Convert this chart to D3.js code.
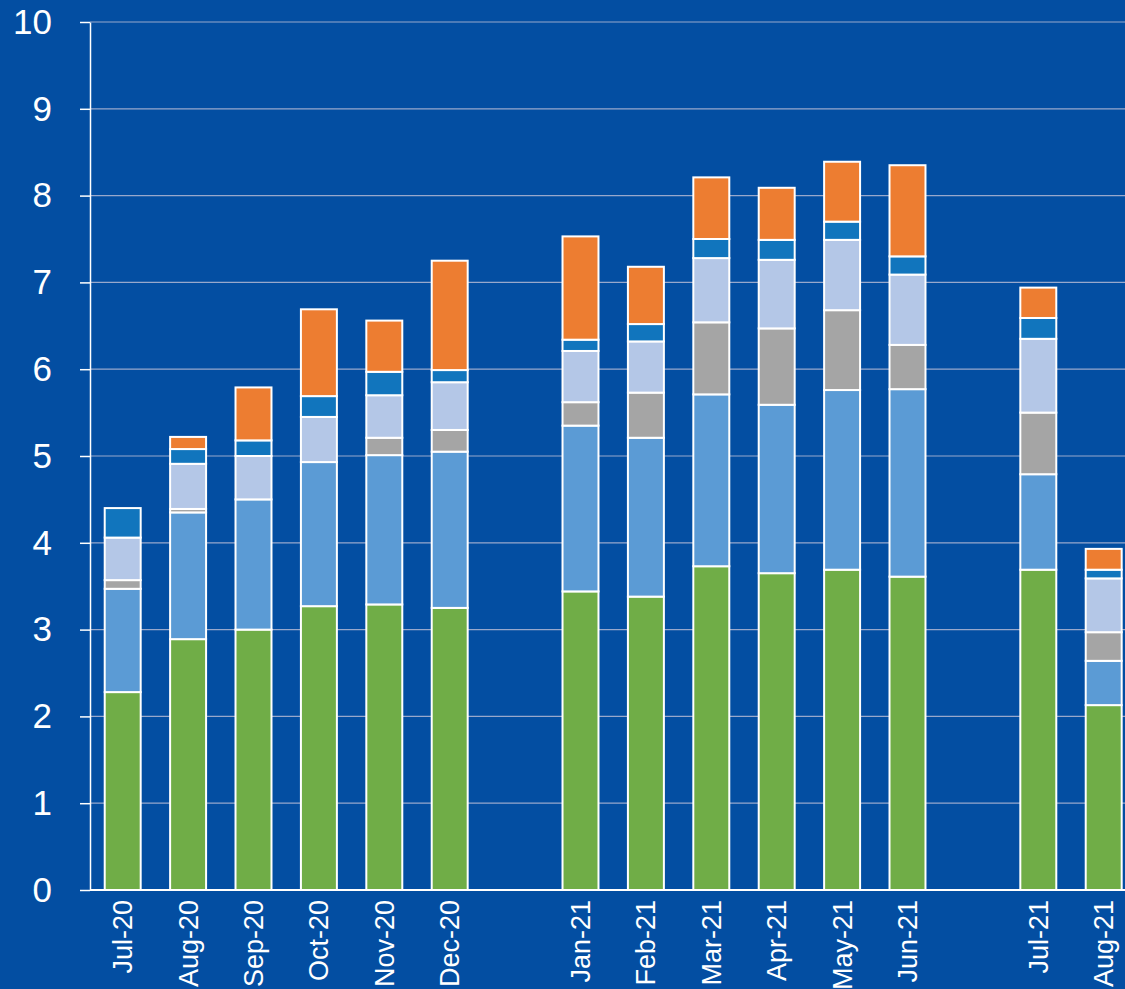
<!DOCTYPE html>
<html>
<head>
<meta charset="utf-8">
<script src="https://cdn.jsdelivr.net/npm/d3@7"></script>
<style>
  html, body { margin: 0; padding: 0; background: #034ea2; }
  svg { display: block; }
</style>
</head>
<body>
<div id="chart"></div>
<script>
// months on the x axis, null marks an empty slot
const months = ["Jul-20", "Aug-20", "Sep-20", "Oct-20", "Nov-20", "Dec-20", null,
  "Jan-21", "Feb-21", "Mar-21", "Apr-21", "May-21", "Jun-21", null,
  "Jul-21", "Aug-21"];

// series values, bottom to top of each stack
const green     = [2.28, 2.89, 3.00, 3.27, 3.29, 3.25, 0, 3.44, 3.38, 3.73, 3.65, 3.69, 3.61, 0, 3.69, 2.13];
const midBlue   = [1.19, 1.46, 1.50, 1.66, 1.72, 1.80, 0, 1.91, 1.83, 1.98, 1.94, 2.07, 2.16, 0, 1.10, 0.51];
const grey      = [0.10, 0.04, 0.00, 0.00, 0.20, 0.25, 0, 0.27, 0.52, 0.83, 0.88, 0.92, 0.51, 0, 0.71, 0.33];
const lightBlue = [0.49, 0.52, 0.50, 0.52, 0.49, 0.55, 0, 0.59, 0.59, 0.74, 0.79, 0.81, 0.81, 0, 0.85, 0.62];
const darkBlue  = [0.34, 0.17, 0.18, 0.24, 0.27, 0.14, 0, 0.13, 0.20, 0.22, 0.23, 0.21, 0.21, 0, 0.24, 0.10];
const orange    = [0.00, 0.14, 0.61, 1.00, 0.59, 1.26, 0, 1.19, 0.66, 0.71, 0.60, 0.69, 1.05, 0, 0.35, 0.24];

const seriesKeys = ["green", "midBlue", "grey", "lightBlue", "darkBlue", "orange"];
const colors = ["#70ad47", "#5b9bd5", "#a5a5a5", "#b4c7e7", "#1175bd", "#ed7d31"];
const yTicks = [0, 1, 2, 3, 4, 5, 6, 7, 8, 9, 10];

const width = 1125, height = 989;
const margin = { left: 90, top: 22, bottom: 99 };

const rows = months.map((m, i) => ({
  idx: i,
  green: green[i], midBlue: midBlue[i], grey: grey[i],
  lightBlue: lightBlue[i], darkBlue: darkBlue[i], orange: orange[i]
}));

const svg = d3.select("#chart").append("svg")
  .attr("width", width).attr("height", height)
  .style("background-color", "#034ea2");

const x = d3.scaleBand()
  .domain(months.map((m, i) => i))
  .range([margin.left, margin.left + 16 * 65.4])
  .paddingInner(0.45)
  .paddingOuter(0.225);

const y = d3.scaleLinear().domain([0, 10]).range([height - margin.bottom, margin.top]);

// gridlines
svg.append("g")
  .selectAll("line")
  .data(yTicks.filter(d => d > 0))
  .join("line")
  .attr("x1", margin.left).attr("x2", width)
  .attr("y1", d => y(d)).attr("y2", d => y(d))
  .style("stroke", "#98a8cc")
  .style("stroke-width", 1.2);

// stacked bars
const stack = d3.stack().keys(seriesKeys);
const layers = stack(rows);

svg.append("g")
  .selectAll("g")
  .data(layers)
  .join("g")
  .style("fill", (d, i) => colors[i])
  .selectAll("rect")
  .data(d => d.filter(s => months[s.data.idx] && s[1] - s[0] > 0))
  .join("rect")
  .attr("x", d => x(d.data.idx))
  .attr("width", x.bandwidth())
  .attr("y", d => y(d[1]))
  .attr("height", d => y(d[0]) - y(d[1]))
  .style("stroke", "#fff")
  .style("stroke-width", 2);

// y axis
const yAxis = svg.append("g")
  .attr("transform", `translate(${margin.left},0)`)
  .call(d3.axisLeft(y).tickValues(yTicks).tickSize(10).tickPadding(28).tickSizeOuter(0));
yAxis.select(".domain").style("stroke", "#fff").style("stroke-width", 1.5);
yAxis.selectAll(".tick line").style("stroke", "#fff").style("stroke-width", 1.5);
yAxis.selectAll("text")
  .style("fill", "#fff")
  .style("font-family", "'Liberation Sans', Arial, sans-serif")
  .style("font-size", "35px");

// x axis
const xAxis = svg.append("g")
  .attr("transform", `translate(0,${y(0)})`)
  .call(d3.axisBottom(x).tickSize(0).tickFormat(i => months[i] || ""));
xAxis.select(".domain").remove();
xAxis.append("line")
  .attr("x1", margin.left).attr("x2", width)
  .style("stroke", "#fff").style("stroke-width", 2);
xAxis.selectAll("text")
  .attr("transform", "rotate(-90)")
  .attr("x", -10).attr("y", 0).attr("dy", "0.35em")
  .style("text-anchor", "end")
  .style("fill", "#fff")
  .style("font-family", "'Liberation Sans', Arial, sans-serif")
  .style("font-size", "27px");
</script>
</body>
</html>
